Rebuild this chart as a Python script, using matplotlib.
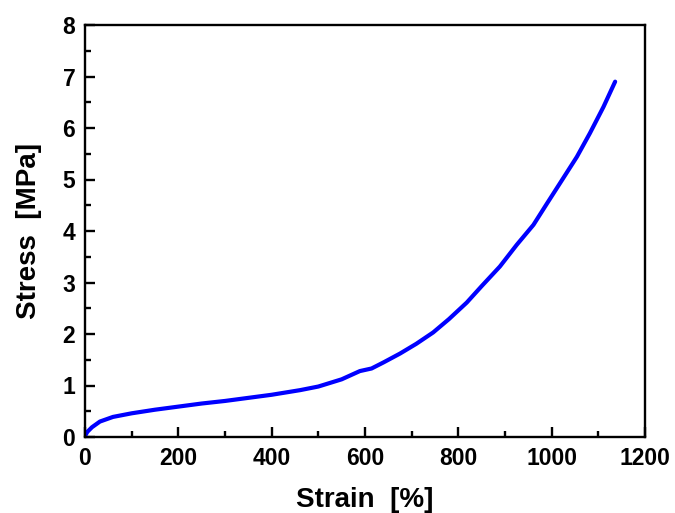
import matplotlib
matplotlib.use("Agg")
import matplotlib.pyplot as plt
from matplotlib.ticker import MultipleLocator

# Tensile test: engineering strain [%] vs. stress [MPa]
strain = [0, 5, 15, 32, 60, 100, 150, 200, 250, 300, 350, 400, 461, 500,
          550, 589, 614, 640, 675, 710, 746, 780, 818, 850, 889, 925, 961,
          989, 1018, 1054, 1082, 1111, 1136]
stress = [0.02, 0.10, 0.19, 0.30, 0.39, 0.46, 0.53, 0.59, 0.65, 0.70, 0.76,
          0.82, 0.91, 0.98, 1.12, 1.28, 1.33, 1.45, 1.62, 1.81, 2.03, 2.29,
          2.61, 2.93, 3.31, 3.73, 4.12, 4.52, 4.93, 5.44, 5.90, 6.41, 6.90]

x_ticks = [0, 200, 400, 600, 800, 1000, 1200]
y_ticks = [0, 1, 2, 3, 4, 5, 6, 7, 8]

plt.rcParams['font.family'] = ['Liberation Sans', 'DejaVu Sans']
plt.rcParams['font.weight'] = 'bold'

fig = plt.figure(figsize=(6.75, 5.13), dpi=100)
ax = fig.add_axes([85 / 675, 1 - 437 / 513, 560 / 675, 412 / 513])

ax.plot(strain, stress, color='#0000ff', lw=3.0, solid_joinstyle='round',
        solid_capstyle='round')

ax.set_xlim(0, 1200)
ax.set_ylim(0, 8)
ax.set_xticks(x_ticks)
ax.set_yticks(y_ticks)
ax.xaxis.set_minor_locator(MultipleLocator(100))
ax.yaxis.set_minor_locator(MultipleLocator(0.5))

ax.tick_params(which='both', direction='in', top=False, right=False,
               width=1.7, labelsize=16.5)
ax.tick_params(which='major', length=7.5)
ax.tick_params(which='minor', length=4.5)
ax.tick_params(axis='x', which='major', pad=7)
ax.tick_params(axis='y', which='major', pad=7)
for lbl in ax.get_xticklabels() + ax.get_yticklabels():
    lbl.set_fontweight('bold')

for sp in ax.spines.values():
    sp.set_linewidth(1.7)

ax.set_xlabel('Strain  [%]', fontsize=20, fontweight='bold', labelpad=12.5)
ax.set_ylabel('Stress  [MPa]', fontsize=20, fontweight='bold', labelpad=14.5)

fig.savefig('out.png', dpi=100)
